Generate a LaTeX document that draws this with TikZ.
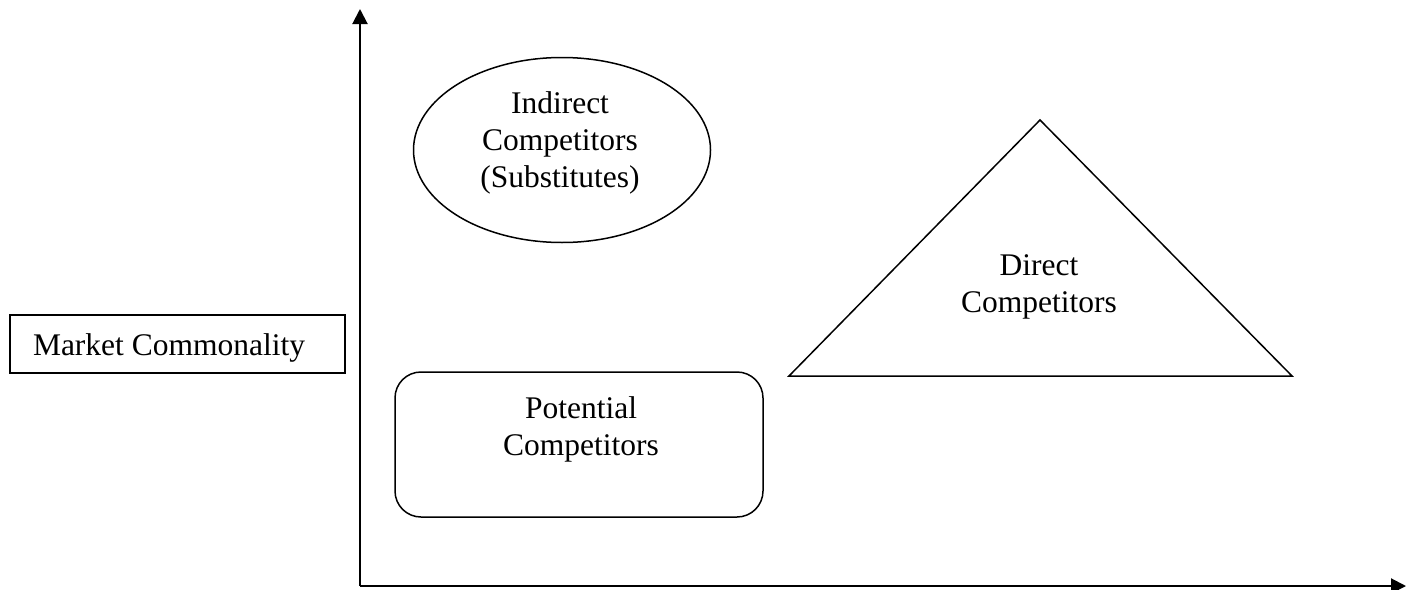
\documentclass[tikz,border=0pt]{standalone}
\usepackage{fontspec}
\setmainfont{Liberation Serif}
\usetikzlibrary{shapes.geometric,arrows.meta}
\begin{document}
\begin{tikzpicture}[x=0.5pt,y=-0.5pt,
  every node/.style={font=\fontsize{15.75}{18.5}\selectfont, inner sep=0pt, outer sep=0pt},
  label text/.style={align=center},
  shape line/.style={draw=black, line width=0.75pt},
  axis/.style={draw=black, line width=1pt, -{Triangle[length=7.5pt,width=7.5pt]}}]
  \useasboundingbox (0,0) rectangle (1407,589);

  % axes
  \coordinate (origin) at (360,586);
  \coordinate (ytop) at (360,9);
  \coordinate (xend) at (1406,586);
  \draw[axis] (origin) -- (ytop);
  \draw[axis] (origin) -- (xend);

  % axis caption box
  \node[shape line, rectangle, minimum width=167.5pt, minimum height=29pt] (mcbox) at (177.5,344) {};
  \node[anchor=west] (mctext) at (33,348) {Market Commonality};

  % indirect competitors
  \node[shape line, ellipse, minimum width=148.5pt, minimum height=92.5pt] (indirect) at (562,150) {};
  \node[label text] (indirecttext) at (560,143) {Indirect\\Competitors\\(Substitutes)};

  % potential competitors
  \node[shape line, rectangle, rounded corners=13pt, minimum width=184pt, minimum height=72.5pt] (potential) at (579,444.5) {};
  \node[label text] (potentialtext) at (581,429) {Potential\\Competitors};

  % direct competitors
  \coordinate (apex) at (1040,120);
  \coordinate (baseleft) at (789,376);
  \coordinate (baseright) at (1292,376);
  \draw[shape line, line join=miter] (apex) -- (baseright) -- (baseleft) -- cycle;
  \node[label text] (directtext) at (1039,287) {Direct\\Competitors};
\end{tikzpicture}
\end{document}
